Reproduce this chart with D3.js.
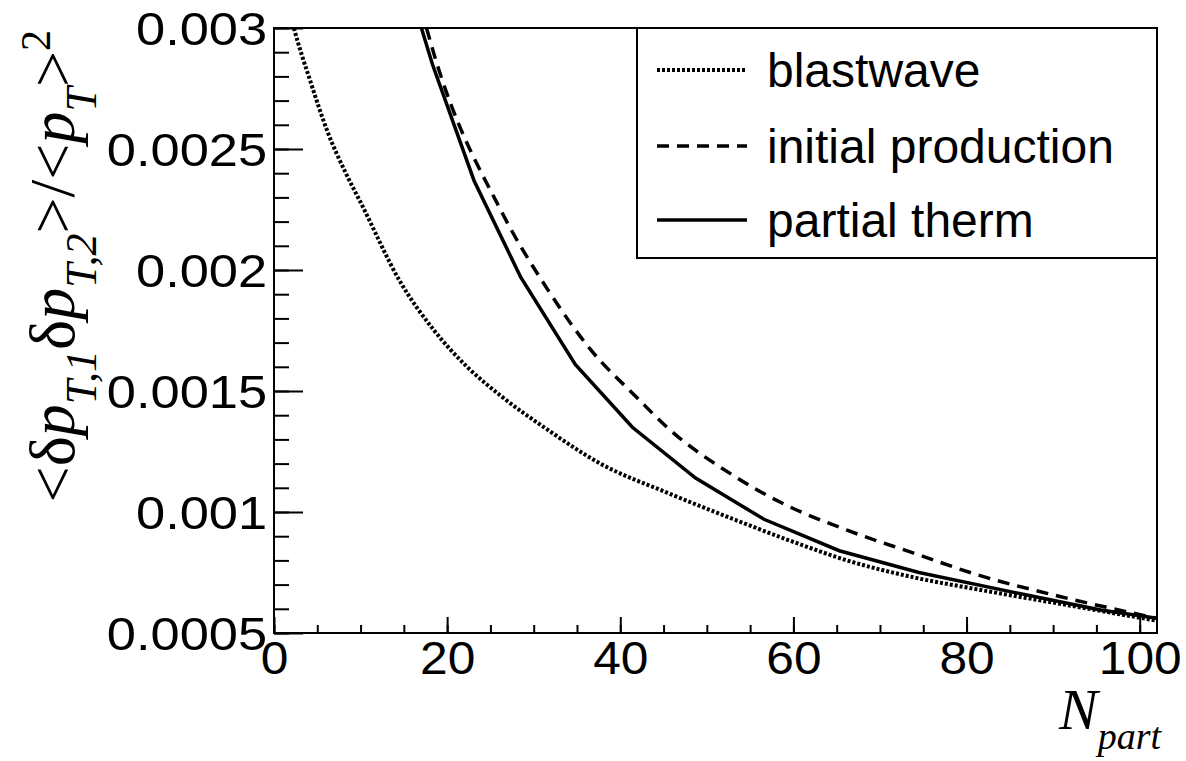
<!DOCTYPE html>
<html>
<head>
<meta charset="utf-8">
<script src="https://cdn.jsdelivr.net/npm/d3@7"></script>
<style>
  body { margin: 0; background: #fff; }
  svg { display: block; }
</style>
</head>
<body>
<svg id="chart" width="1186" height="761"></svg>
<script>
// values
let npartBlast = [1.6, 2.3, 4.2, 6.2, 8.3, 10.0, 14.6, 18.5, 22.3, 26.2, 31.6, 37.7, 45.4, 53.1, 60.5, 66.2, 73.9, 81.3, 90.9, 102.1];
let blastwave  = [0.00310, 0.00300, 0.00278, 0.00257, 0.00240, 0.00228, 0.00195, 0.00175, 0.00160, 0.00148, 0.00134, 0.00120, 0.00108, 0.00097, 0.00087, 0.00080, 0.00073, 0.00068, 0.00062, 0.00055];

let npartInit = [17.0, 18.5, 26.3, 31.6, 36.6, 42.0, 45.4, 53.1, 58.5, 66.2, 73.9, 81.3, 90.9, 102.1];
let initialProd = [0.00308, 0.00289, 0.00224, 0.00192, 0.00167, 0.00147, 0.00135, 0.00115, 0.00104, 0.000925, 0.00083, 0.00074, 0.00065, 0.00056];

let npartTherm = [16.6, 18.3, 23.1, 28.5, 34.8, 41.4, 48.7, 56.6, 65.3, 74.5, 84.5, 95.5, 102.1];
let partialTherm = [0.00305, 0.00285, 0.00237, 0.00197, 0.00161, 0.00135, 0.00114, 0.00097, 0.00084, 0.00075, 0.000675, 0.000595, 0.00056];

let legendNames = ["blastwave", "initial production", "partial therm"];
let yTicks = [0.0005, 0.001, 0.0015, 0.002, 0.0025, 0.003];
let yTickLabels = ["0.0005", "0.001", "0.0015", "0.002", "0.0025", "0.003"];
let xTicks = [0, 20, 40, 60, 80, 100];

let svg = d3.select("#chart");
let plotLeft = 274, plotRight = 1157, plotTop = 28, plotBottom = 633;

let x = d3.scaleLinear().domain([0, 102]).range([plotLeft, plotRight]);
let y = d3.scaleLinear().domain([0.0005, 0.003]).range([plotBottom, plotTop]);

svg.append("rect").attr("width", 1186).attr("height", 761).attr("fill", "#fff");

svg.append("clipPath").attr("id", "plotClip")
    .append("rect").attr("x", plotLeft).attr("y", plotTop)
    .attr("width", plotRight - plotLeft).attr("height", plotBottom - plotTop);

// minor ticks
let yMinor = d3.range(0.0005, 0.00301, 0.0001);
let xMinor = d3.range(0, 101, 5);

let yMinorAxis = svg.append("g").attr("transform", "translate(" + plotLeft + ",0)")
    .call(d3.axisLeft(y).tickValues(yMinor).tickSizeInner(-15).tickSizeOuter(0).tickFormat(""));
let xMinorAxis = svg.append("g").attr("transform", "translate(0," + plotBottom + ")")
    .call(d3.axisBottom(x).tickValues(xMinor).tickSizeInner(-8).tickSizeOuter(0).tickFormat(""));

// major ticks with labels
let yAxis = svg.append("g").attr("transform", "translate(" + plotLeft + ",0)")
    .call(d3.axisLeft(y).tickValues(yTicks).tickSizeInner(-29).tickSizeOuter(0).tickPadding(6)
        .tickFormat((d, i) => yTickLabels[i]));
let xAxis = svg.append("g").attr("transform", "translate(0," + plotBottom + ")")
    .call(d3.axisBottom(x).tickValues(xTicks).tickSizeInner(-16).tickSizeOuter(0).tickPadding(8));

[yMinorAxis, xMinorAxis, yAxis, xAxis].forEach(a => {
    a.selectAll("path.domain").remove();
    a.selectAll("line").attr("stroke", "#000").attr("stroke-width", 2);
});
yAxis.selectAll("text")
    .attr("font-family", "'Liberation Sans', Arial, sans-serif")
    .attr("font-size", 46).attr("fill", "#000")
    .attr("dy", "0.36em")
    .attr("transform", "scale(1.14,1)");
xAxis.selectAll("text")
    .attr("font-family", "'Liberation Sans', Arial, sans-serif")
    .attr("font-size", 46).attr("fill", "#000")
    .attr("dy", "0.72em")
    .attr("transform", "scale(1.08,1)");

// frame
svg.append("rect").attr("x", plotLeft).attr("y", plotTop)
    .attr("width", plotRight - plotLeft).attr("height", plotBottom - plotTop)
    .attr("fill", "none").attr("stroke", "#000").attr("stroke-width", 2);

// curves
let line = d3.line().x(d => x(d[0])).y(d => y(d[1]));
let plotArea = svg.append("g").attr("clip-path", "url(#plotClip)");

let series = [
    { xs: npartBlast, ys: blastwave, dash: "3,2", width: 4, curve: d3.curveMonotoneX },
    { xs: npartInit, ys: initialProd, dash: "12,8", width: 3.5, curve: d3.curveMonotoneX },
    { xs: npartTherm, ys: partialTherm, dash: null, width: 3.5, curve: d3.curveLinear }
];

series.forEach(s => {
    let pts = s.xs.map((v, i) => [v, s.ys[i]]);
    plotArea.append("path")
        .datum(pts)
        .attr("d", line.curve(s.curve))
        .attr("fill", "none")
        .attr("stroke", "#000")
        .attr("stroke-width", s.width)
        .attr("stroke-dasharray", s.dash);
});

// legend
let legend = svg.append("g");
legend.append("rect").attr("x", 637).attr("y", plotTop)
    .attr("width", plotRight - 637).attr("height", 258 - plotTop)
    .attr("fill", "#fff").attr("stroke", "#000").attr("stroke-width", 2);
let legendY = [70, 146, 220];
legendNames.forEach((name, i) => {
    legend.append("line")
        .attr("x1", 657).attr("x2", 747)
        .attr("y1", legendY[i]).attr("y2", legendY[i])
        .attr("stroke", "#000").attr("stroke-width", series[i].width)
        .attr("stroke-dasharray", series[i].dash);
    legend.append("text")
        .attr("x", 767).attr("y", legendY[i] + 17)
        .attr("font-family", "'Liberation Sans', Arial, sans-serif")
        .attr("font-size", 48)
        .text(name);
});

// x title
let xTitle = svg.append("text")
    .attr("x", plotRight + 4).attr("y", 729)
    .attr("text-anchor", "end")
    .attr("font-family", "'Liberation Serif', 'Times New Roman', serif")
    .attr("font-style", "italic")
    .attr("font-size", 58);
xTitle.append("tspan").text("N");
xTitle.append("tspan").attr("font-size", 38).attr("dy", 20).text("part");

// y title
let yTitle = svg.append("text")
    .attr("transform", "translate(74,30) rotate(-90)")
    .attr("text-anchor", "end")
    .attr("font-family", "'Liberation Serif', 'Times New Roman', serif")
    .attr("font-size", 64);
let parts = [
    ["<", 64, false, 0], ["δ", 64, false, 0], ["p", 64, true, 0], ["T,1", 44, true, 22],
    ["δ", 64, false, -22], ["p", 64, true, 0], ["T,2", 44, true, 22],
    [">", 64, false, -22], ["/", 64, false, 0], ["<", 64, false, 0], ["p", 64, true, 0],
    ["T", 44, true, 22], [">", 64, false, -22], ["2", 42, false, -24]
];
parts.forEach(p => {
    yTitle.append("tspan")
        .attr("font-size", p[1])
        .attr("font-style", p[2] ? "italic" : "normal")
        .attr("dy", p[3])
        .text(p[0]);
});
</script>
</body>
</html>
